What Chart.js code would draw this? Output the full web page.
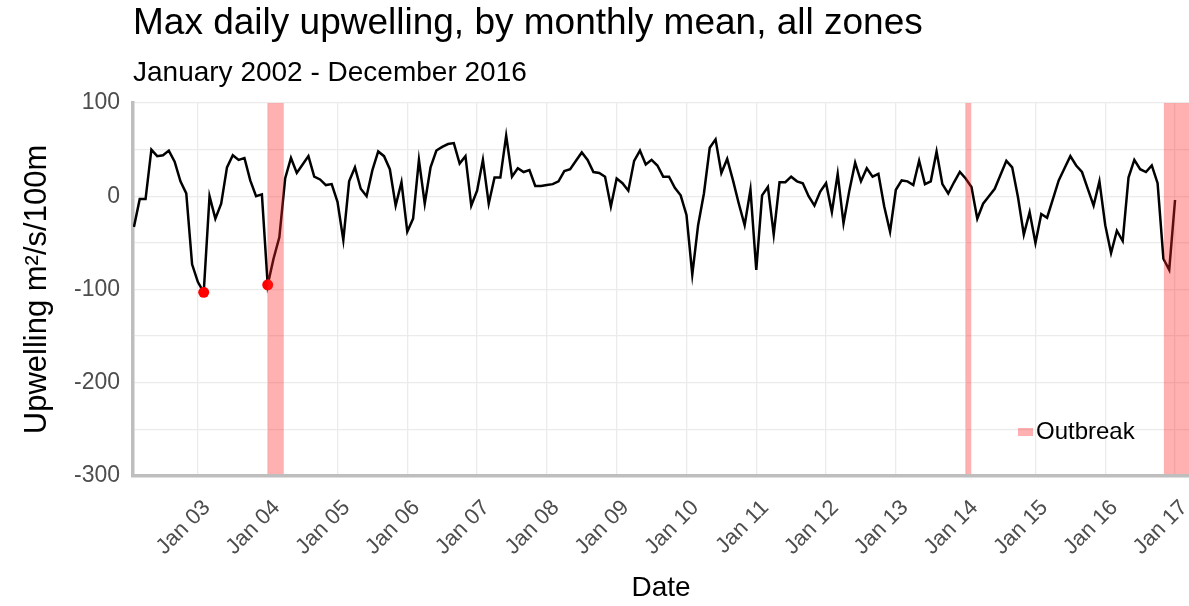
<!DOCTYPE html>
<html>
<head>
<meta charset="utf-8">
<title>Max daily upwelling</title>
<script src="https://cdn.jsdelivr.net/npm/chart.js@4.4.1/dist/chart.umd.min.js"></script>
<style>
  html, body { margin: 0; padding: 0; background: #fff; }
  #wrap { position: relative; width: 1189px; height: 606px; overflow: hidden; font-family: 'Liberation Sans', Arial, sans-serif; }
  #title { position: absolute; left: 133px; top: 3px; font-size: 37px; line-height: 37px; color: #000; white-space: nowrap; }
  #subtitle { position: absolute; left: 133px; top: 58px; font-size: 28px; line-height: 28px; color: #000; white-space: nowrap; }
  canvas { position: absolute; left: 0; top: 0; }
</style>
</head>
<body>
<div id="wrap">
  <canvas id="chart" width="1189" height="606"></canvas>
  <div id="title">Max daily upwelling, by monthly mean, all zones</div>
  <div id="subtitle">January 2002 - December 2016</div>
</div>
<script>
const FONT = "'Liberation Sans', Arial, sans-serif";

// monthly means, Jan 2002 .. Dec 2016
const startYear = 2002;
const upwelling = [
  -33, -3, -3, 50, 43, 44, 49, 37, 16, 3, -73, -92,
  -103, 0, -24, -8, 31, 44, 39, 41, 17, 0, 2, -95,
  -67, -44, 19, 41, 25, 34, 43, 21, 18, 12, 13, -6,
  -47, 16, 31, 8, 0, 28, 48, 43, 29, -10, 15, -38,
  -24, 39, -8, 31, 49, 53, 56, 57, 35, 43, -10, 6,
  39, -8, 20, 20, 65, 21, 30, 26, 28, 11, 11, 12,
  13, 16, 27, 29, 38, 47, 39, 26, 25, 21, -11, 19,
  14, 6, 38, 49, 34, 39, 33, 21, 21, 9, 1, -20,
  -84, -31, 3, 52, 61, 25, 40, 17, -8, -31, 7, -79,
  1, 10, -41, 15, 15, 21, 16, 14, 0, -10, 5, 14,
  -17, 24, -29, 6, 36, 16, 30, 21, 24, -11, -38, 7,
  17, 16, 12, 38, 13, 16, 48, 13, 3, 15, 26, 19,
  10, -24, -8, 0, 8, 23, 38, 31, -1, -41, -17, -50,
  -19, -23, -3, 17, 30, 43, 33, 26, 8, -10, 16, -31,
  -61, -37, -48, 20, 39, 29, 26, 33, 14, -67, -79, -4
];

// months marked with a red dot (index into upwelling)
const flaggedMonths = [12, 23];

// outbreak periods, decimal years
const outbreakStart = [2004.0, 2014.0, 2016.84];
const outbreakEnd = [2004.23, 2014.08, 2017.5];

const yearTicks = [2003, 2004, 2005, 2006, 2007, 2008, 2009, 2010, 2011, 2012, 2013, 2014, 2015, 2016, 2017];
const tickLabels = ['Jan 03', 'Jan 04', 'Jan 05', 'Jan 06', 'Jan 07', 'Jan 08', 'Jan 09', 'Jan 10',
  'Jan 11', 'Jan 12', 'Jan 13', 'Jan 14', 'Jan 15', 'Jan 16', 'Jan 17'];

const monthX = i => startYear + (i + 1) / 12;
const linePoints = upwelling.map((v, i) => ({ x: monthX(i), y: v }));
const dotPoints = flaggedMonths.map(i => ({ x: monthX(i), y: upwelling[i] }));

const bandColor = 'rgba(255, 40, 40, 0.36)';

const outbreakPlugin = {
  id: 'outbreak',
  afterDatasetsDraw(chart) {
    const { ctx, chartArea, scales } = chart;
    ctx.save();
    ctx.beginPath();
    ctx.rect(chartArea.left, chartArea.top, chartArea.right - chartArea.left, chartArea.bottom - chartArea.top - 2);
    ctx.clip();
    ctx.fillStyle = bandColor;
    outbreakStart.forEach((s, k) => {
      const x1 = scales.x.getPixelForValue(s);
      const x2 = scales.x.getPixelForValue(outbreakEnd[k]);
      ctx.fillRect(x1, chartArea.top, x2 - x1, chartArea.bottom - chartArea.top);
    });
    ctx.restore();
  },
  afterDraw(chart) {
    // legend inside the panel, bottom right
    const { ctx, chartArea } = chart;
    const kx = chartArea.right - 171;
    const ky = chartArea.bottom - 44;
    ctx.save();
    ctx.fillStyle = bandColor;
    ctx.fillRect(kx, ky - 4, 15, 8);
    ctx.fillStyle = '#000';
    ctx.font = '24px ' + FONT;
    ctx.textBaseline = 'middle';
    ctx.textAlign = 'left';
    ctx.fillText('Outbreak', kx + 18, ky);
    ctx.restore();
  }
};

new Chart(document.getElementById('chart'), {
  type: 'line',
  data: {
    datasets: [
      {
        label: 'flagged',
        data: dotPoints,
        showLine: false,
        pointRadius: 5.5,
        pointBackgroundColor: '#ff0000',
        pointBorderWidth: 0,
        order: 0
      },
      {
        label: 'Upwelling',
        data: linePoints,
        borderColor: '#000',
        borderWidth: 2.5,
        pointRadius: 0,
        tension: 0,
        order: 1
      }
    ]
  },
  options: {
    responsive: false,
    animation: false,
    layout: { autoPadding: false, padding: { top: 103, left: 0, right: 0, bottom: 0 } },
    plugins: {
      legend: { display: false },
      tooltip: { enabled: false }
    },
    scales: {
      x: {
        type: 'linear',
        min: 2002.07,
        max: 2017.2,
        afterBuildTicks: s => { s.ticks = yearTicks.map(v => ({ value: v })); },
        afterFit: s => { s.height = 130; s.paddingLeft = 0; s.paddingRight = 0; },
        ticks: {
          autoSkip: false,
          minRotation: 45,
          maxRotation: 45,
          padding: 19,
          labelOffset: 9,
          color: '#4d4d4d',
          font: { size: 22, family: FONT },
          callback: (v, i) => tickLabels[i]
        },
        grid: { color: '#ebebeb', lineWidth: 1.3, drawTicks: false },
        border: { display: true, color: '#bebebe', width: 3.5 },
        title: {
          display: true,
          text: 'Date',
          color: '#000',
          font: { size: 28, family: FONT },
          padding: { top: 0, bottom: 1 }
        }
      },
      y: {
        min: -300,
        max: 100,
        afterFit: s => { s.width = 133; },
        ticks: {
          stepSize: 50,
          padding: 13,
          color: '#4d4d4d',
          font: { size: 23, family: FONT },
          callback: v => (v % 100 === 0 ? v : '')
        },
        grid: { color: '#ebebeb', lineWidth: 1.3, drawTicks: false },
        border: { display: true, color: '#bebebe', width: 3.5 },
        title: {
          display: true,
          text: 'Upwelling m²/s/100m',
          color: '#000',
          font: { size: 31, family: FONT },
          padding: { top: 19, bottom: 0 }
        }
      }
    }
  },
  plugins: [outbreakPlugin]
});
</script>
</body>
</html>
